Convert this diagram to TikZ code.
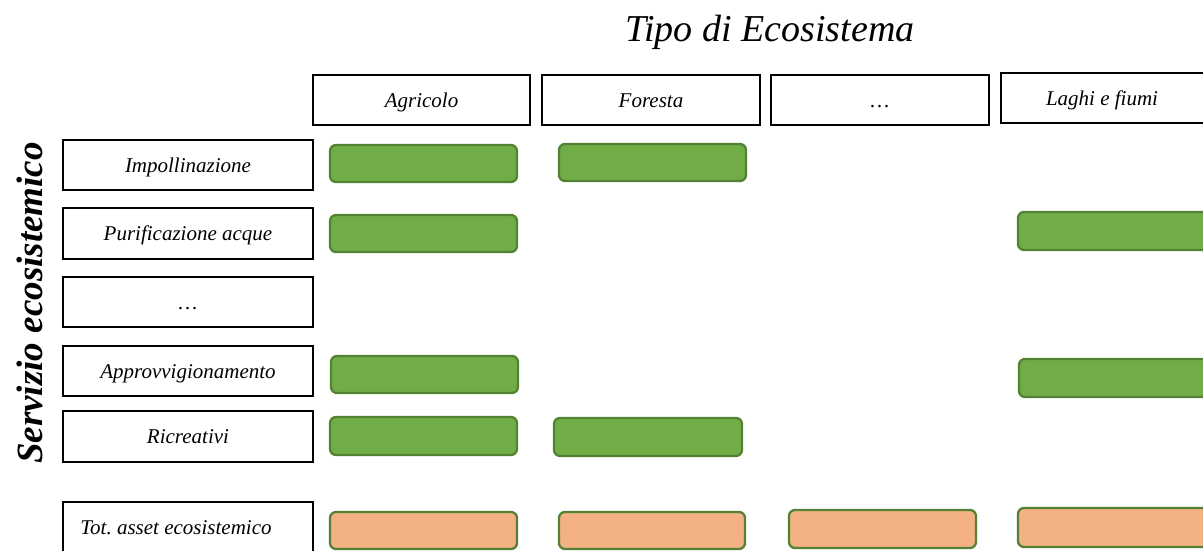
\documentclass[tikz,border=0pt]{standalone}
\usepackage{fontspec}
\setmainfont{Liberation Serif}
\begin{document}
\begin{tikzpicture}[x=1pt,y=-1pt]
\definecolor{gbox}{HTML}{70AD47}
\definecolor{gline}{HTML}{548235}
\definecolor{obox}{HTML}{F4B183}
\tikzset{
  hdr/.style={draw=black,line width=1.8pt,fill=white},
  lbl/.style={font=\fontsize{21}{23}\selectfont\itshape,text height=14pt,text depth=4pt,inner sep=0pt},
  greencell/.style={draw=gline,fill=gbox,line width=2.3pt,rounded corners=6pt},
  orangecell/.style={draw=gline,fill=obox,line width=2.3pt,rounded corners=6pt}}
\useasboundingbox (0,0) rectangle (1203,550);
\clip (0,0) rectangle (1203,550);
\node[font=\fontsize{38}{40}\selectfont\itshape] (title) at (770,32) {Tipo di Ecosistema};
\node[font=\fontsize{37}{40}\selectfont\bfseries\itshape,rotate=90] (side) at (30,303) {Servizio ecosistemico};
% column headers
\draw[hdr] (313,75) rectangle (530,125);
\node[lbl] (hA) at (421.5,102) {Agricolo};
\draw[hdr] (542,75) rectangle (760,125);
\node[lbl] (hF) at (651,102) {Foresta};
\draw[hdr] (771,75) rectangle (989,125);
\node[lbl] (hD) at (880,102) {\dots};
\draw[hdr] (1001,73) rectangle (1220,123);
\node[lbl] (hL) at (1102,100) {Laghi e fiumi};
% row headers
\draw[hdr] (63,140) rectangle (313,190);
\node[lbl] (r1) at (188,167) {Impollinazione};
\draw[hdr] (63,208) rectangle (313,259);
\node[lbl] (r2) at (188,235.5) {Purificazione acque};
\draw[hdr] (63,277) rectangle (313,327);
\node[lbl] (r3) at (188,304) {\dots};
\draw[hdr] (63,346) rectangle (313,396);
\node[lbl] (r4) at (188,373) {Approvvigionamento};
\draw[hdr] (63,411) rectangle (313,462);
\node[lbl] (r5) at (188,438.5) {Ricreativi};
\draw[hdr] (63,502) rectangle (313,560);
\node[lbl] (r6) at (176,529) {Tot.\ asset ecosistemico};
% green cells
\draw[greencell] (330,145) rectangle (517,182);
\draw[greencell] (559,144) rectangle (746,181);
\draw[greencell] (330,215) rectangle (517,252);
\draw[greencell] (1018,212) rectangle (1215,250);
\draw[greencell] (331,356) rectangle (518,393);
\draw[greencell] (1019,359) rectangle (1215,397);
\draw[greencell] (330,417) rectangle (517,455);
\draw[greencell] (554,418) rectangle (742,456);
% orange totals
\draw[orangecell] (330,512) rectangle (517,549);
\draw[orangecell] (559,512) rectangle (745,549);
\draw[orangecell] (789,510) rectangle (976,548);
\draw[orangecell] (1018,508) rectangle (1215,547);
\end{tikzpicture}
\end{document}
